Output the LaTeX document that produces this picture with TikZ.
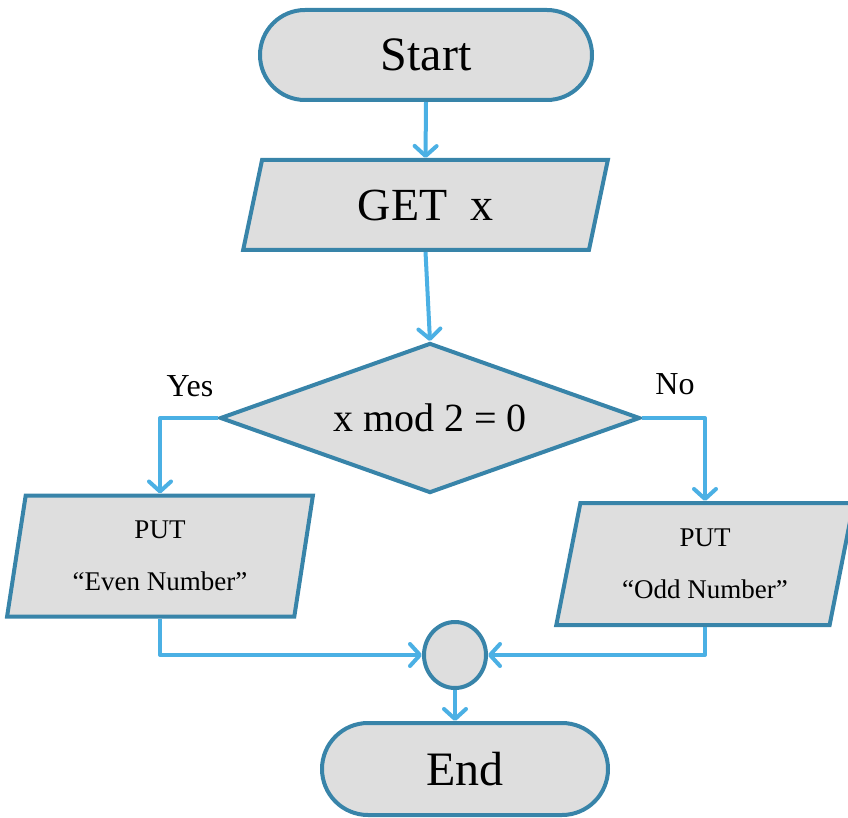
\documentclass[tikz,border=0pt]{standalone}
\usepackage{fontspec}
\setmainfont{Liberation Serif}
\usetikzlibrary{shapes.geometric,shapes.misc,arrows.meta}

\definecolor{edgeblue}{HTML}{3884A9}
\definecolor{flowblue}{HTML}{4BB0E4}
\definecolor{boxgray}{HTML}{DEDEDE}

\tikzset{
  box/.style={draw=edgeblue, fill=boxgray, line width=4pt, inner sep=2pt},
  terminal/.style={box, rounded rectangle},
  iobox/.style={box, trapezium, trapezium stretches=true},
  decision/.style={box, diamond},
  joint/.style={box, ellipse},
  flow/.style={draw=flowblue, line width=4pt, line join=round,
    -{Straight Barb[length=10pt,width=22pt,round]}},
  lbl/.style={font=\fontsize{32}{36}\selectfont}
}

\begin{document}
\begin{tikzpicture}[x=1pt,y=-1pt]
\useasboundingbox (0,0) rectangle (848,818);

% terminals
\node[terminal, minimum width=336pt, minimum height=90pt,
      font=\fontsize{48}{54}\selectfont] (start) at (426,55) {Start};
\node[terminal, minimum width=290pt, minimum height=92pt,
      font=\fontsize{48}{54}\selectfont] (end) at (465,769) {End};

% input
\node[iobox, trapezium left angle=77, trapezium right angle=103,
      minimum width=365pt, minimum height=90pt,
      font=\fontsize{46}{52}\selectfont] (get) at (425.5,205) {GET\ \ x};

% decision
\node[decision, aspect=2.8, minimum width=420pt, minimum height=150pt,
      font=\fontsize{40}{46}\selectfont] (dec) at (430,418) {x mod 2 = 0};

% outputs
\node[iobox, trapezium left angle=80.5, trapezium right angle=99.5,
      minimum width=306pt, minimum height=121pt, align=center,
      font=\fontsize{27}{52}\selectfont] (even) at (160,556)
      {PUT\\“Even Number”};
\node[iobox, trapezium left angle=77.5, trapezium right angle=102.5,
      minimum width=298pt, minimum height=122pt, align=center,
      font=\fontsize{27}{52}\selectfont] (odd) at (705,564)
      {PUT\\“Odd Number”};

% junction
\node[joint, minimum width=62pt, minimum height=66pt] (join) at (455,655) {};

% branch labels
\node[lbl] (yes) at (190,386) {Yes};
\node[lbl] (no) at (675,384) {No};

% connectors
\draw[flow] (start.south) -- (get.north);
\draw[flow] (get.south) -- (dec.north);
\draw[flow] (dec.west) -| (even.center |- even.north);
\draw[flow] (dec.east) -| (odd.center |- odd.north);
\draw[flow] (even.center |- even.south) |- (join.west);
\draw[flow] (odd.center |- odd.south) |- (join.east);
\draw[flow] (join.south) -- (join.south |- end.north);
\end{tikzpicture}
\end{document}
